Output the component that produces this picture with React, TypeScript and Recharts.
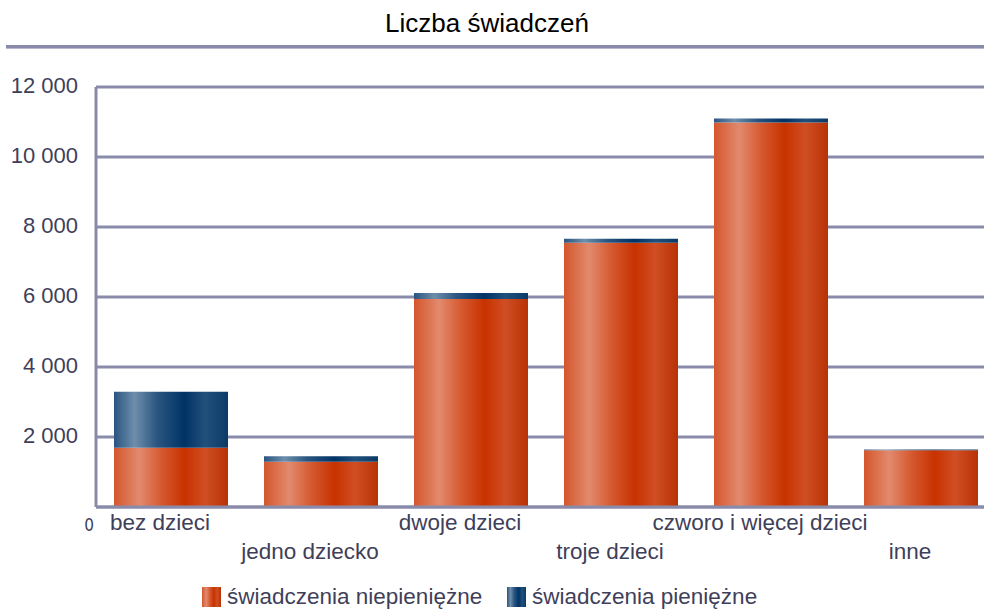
import { BarChart, Bar, XAxis, YAxis, CartesianGrid, Legend } from 'recharts';

const categories = ['bez dzieci', 'jedno dziecko', 'dwoje dzieci', 'troje dzieci', 'czworo i więcej dzieci', 'inne'];
const niepieniezne = [1690, 1290, 5940, 7550, 10985, 1625];
const pieniezne = [1605, 163, 175, 112, 115, 20];
const yTicks = [0, 2000, 4000, 6000, 8000, 10000, 12000];
const seriesNames = ['świadczenia niepieniężne', 'świadczenia pieniężne'];

const data = categories.map((name, i) => ({ name, np: niepieniezne[i], p: pieniezne[i] }));

const FONT = '"Liberation Sans", Arial, sans-serif';
const TEXT = '#3f3f5a';
const GRID = '#8a8bab';
const ORANGE_CSS = 'linear-gradient(to right, #d4562c 0%, #e28a6e 22%, #d5582e 42%, #c83200 62%, #d04e24 80%, #b83205 100%)';
const BLUE_CSS = 'linear-gradient(to right, #2a5480 0%, #6e8eab 18%, #2a5580 38%, #003366 62%, #22507c 80%, #0c3a66 100%)';

function fmt(v: number): string {
  return String(v).replace(/\B(?=(\d{3})+(?!\d))/g, ' ');
}

function XTick({ x, y, payload, index }: any) {
  const line2 = index % 2 === 1;
  return (
    <text x={x - 11} y={y + (line2 ? 52 : 23)} textAnchor="middle" fill={TEXT} fontSize={22.5} fontFamily={FONT}>
      {payload.value}
    </text>
  );
}

function YTick({ x, y, payload }: any) {
  if (payload.value === 0) {
    return (
      <text x={89} y={y + 24} textAnchor="middle" fill={TEXT} fontSize={17} fontFamily={'"Liberation Sans Narrow", "DejaVu Sans Condensed", sans-serif'}>
        0
      </text>
    );
  }
  return (
    <text x={x - 18} y={y + 6} textAnchor="end" fill={TEXT} fontSize={22} fontFamily={FONT}>
      {fmt(payload.value)}
    </text>
  );
}

function LegendBox() {
  const items = [
    { left: 202, bg: ORANGE_CSS, label: seriesNames[0] },
    { left: 507, bg: BLUE_CSS, label: seriesNames[1] },
  ];
  return (
    <div style={{ position: 'relative', width: 984, height: 30 }}>
      {items.map(it => (
        <div key={it.label} style={{ position: 'absolute', left: it.left, top: 7, display: 'flex', alignItems: 'center' }}>
          <span style={{ width: 19, height: 20, background: it.bg, display: 'inline-block' }} />
          <span style={{ marginLeft: 6, fontSize: 22.5, color: TEXT, fontFamily: FONT, lineHeight: '20px' }}>{it.label}</span>
        </div>
      ))}
    </div>
  );
}

export default function App() {
  return (
    <div style={{ position: 'absolute', left: 0, top: 0, width: 984, height: 609, overflow: 'hidden', background: '#fff', fontFamily: FONT }}>
      <div style={{ position: 'absolute', left: 0, top: 8, width: 974, textAlign: 'center', fontSize: 26, color: '#000', lineHeight: '30px' }}>
        Liczba świadczeń
      </div>
      <div style={{ position: 'absolute', left: 6, top: 45, width: 978, height: 3, background: GRID }} />
      <div style={{ position: 'absolute', left: 6, top: 48, width: 978, height: 1, background: '#b8b9cc' }} />
      <BarChart
        width={1000}
        height={609}
        data={data}
        margin={{ top: 87, right: 4, bottom: 10, left: 0 }}
        barCategoryGap="12%"
      >
        <defs>
          <linearGradient id="gOrange" x1="0" y1="0" x2="1" y2="0">
            <stop offset="0%" stopColor="#d4562c" />
            <stop offset="22%" stopColor="#e28a6e" />
            <stop offset="42%" stopColor="#d5582e" />
            <stop offset="62%" stopColor="#c83200" />
            <stop offset="80%" stopColor="#d04e24" />
            <stop offset="100%" stopColor="#b83205" />
          </linearGradient>
          <linearGradient id="gBlue" x1="0" y1="0" x2="1" y2="0">
            <stop offset="0%" stopColor="#2a5480" />
            <stop offset="18%" stopColor="#6e8eab" />
            <stop offset="38%" stopColor="#2a5580" />
            <stop offset="62%" stopColor="#003366" />
            <stop offset="80%" stopColor="#22507c" />
            <stop offset="100%" stopColor="#0c3a66" />
          </linearGradient>
        </defs>
        <CartesianGrid vertical={false} stroke={GRID} strokeWidth={3} />
        <XAxis
          dataKey="name"
          height={62}
          interval={0}
          tickLine={false}
          tickSize={0}
          tickMargin={0}
          axisLine={{ stroke: GRID, strokeWidth: 3 }}
          tick={<XTick />}
        />
        <YAxis
          width={96}
          domain={[0, 12000]}
          ticks={yTicks}
          tickLine={false}
          tickSize={0}
          tickMargin={0}
          axisLine={{ stroke: GRID, strokeWidth: 3 }}
          tick={<YTick />}
        />
        <Legend
          verticalAlign="bottom"
          content={<LegendBox />}
          wrapperStyle={{ position: 'absolute', left: 0, top: 580, width: 984, height: 30 }}
        />
        <Bar dataKey="np" name={seriesNames[0]} stackId="a" fill="url(#gOrange)" isAnimationActive={false} />
        <Bar dataKey="p" name={seriesNames[1]} stackId="a" fill="url(#gBlue)" isAnimationActive={false} />
      </BarChart>
    </div>
  );
}
